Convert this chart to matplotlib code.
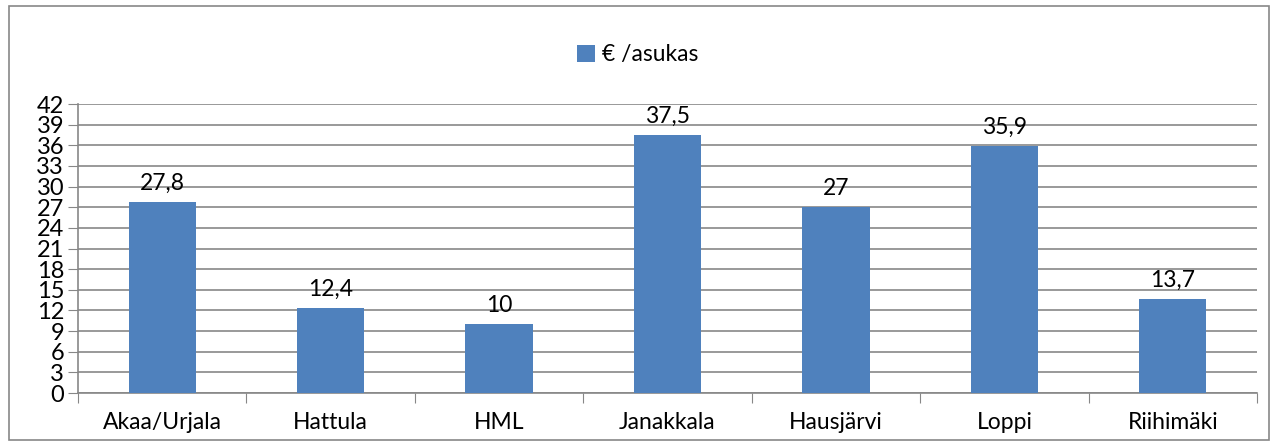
import matplotlib.pyplot as plt
from matplotlib.patches import Rectangle

categories = ['Akaa/Urjala', 'Hattula', 'HML', 'Janakkala', 'Hausjärvi', 'Loppi', 'Riihimäki']
values = [27.8, 12.4, 10, 37.5, 27, 35.9, 13.7]
labels = ['27,8', '12,4', '10', '37,5', '27', '35,9', '13,7']
yticks = list(range(0, 43, 3))

plt.rcParams['font.family'] = ['Lato', 'DejaVu Sans']
bar_color = '#4F81BD'
grid_color = '#878787'

fig = plt.figure(figsize=(12.75, 4.46), dpi=100)
ax = fig.add_axes([0.0612, 0.1188, 0.9247, 0.648])

x = list(range(len(categories)))
bars = ax.bar(x, values, width=0.4, color=bar_color, zorder=3, label='€ /asukas')
for xi, v, lab in zip(x, values, labels):
    ax.text(xi, v + 1.2, lab, ha='center', va='bottom', fontsize=16.5)

ax.set_ylim(0, 42)
ax.set_xlim(-0.5, len(categories) - 0.5)
ax.set_yticks(yticks)
ax.set_yticklabels([str(t) for t in yticks], fontsize=17)
ax.tick_params(axis='y', length=7, color=grid_color, pad=3)

ax.set_xticks([i - 0.5 for i in range(len(categories) + 1)], minor=False)
ax.set_xticklabels([])
ax.set_xticks(x, minor=True)
ax.set_xticklabels(categories, minor=True, fontsize=16.5)
ax.tick_params(axis='x', which='major', length=7, color=grid_color)
ax.tick_params(axis='x', which='minor', length=0, pad=14)

ax.grid(axis='y', color=grid_color, linewidth=1.2, zorder=0)
for side in ['top', 'right']:
    ax.spines[side].set_visible(False)
ax.spines['left'].set_color(grid_color)
ax.spines['bottom'].set_color(grid_color)
ax.spines['left'].set_linewidth(1.2)
ax.spines['bottom'].set_linewidth(1.2)

fig.legend(handles=[bars], loc='center', bbox_to_anchor=(0.5, 0.877), frameon=False,
           fontsize=16.5, handlelength=0.8, handleheight=0.8, handletextpad=0.3)

fig.patches.append(Rectangle((0.007, 0.014), 0.988, 0.972, transform=fig.transFigure,
                             fill=False, edgecolor='#878787', linewidth=1.2))

fig.savefig('out.png', dpi=100)
